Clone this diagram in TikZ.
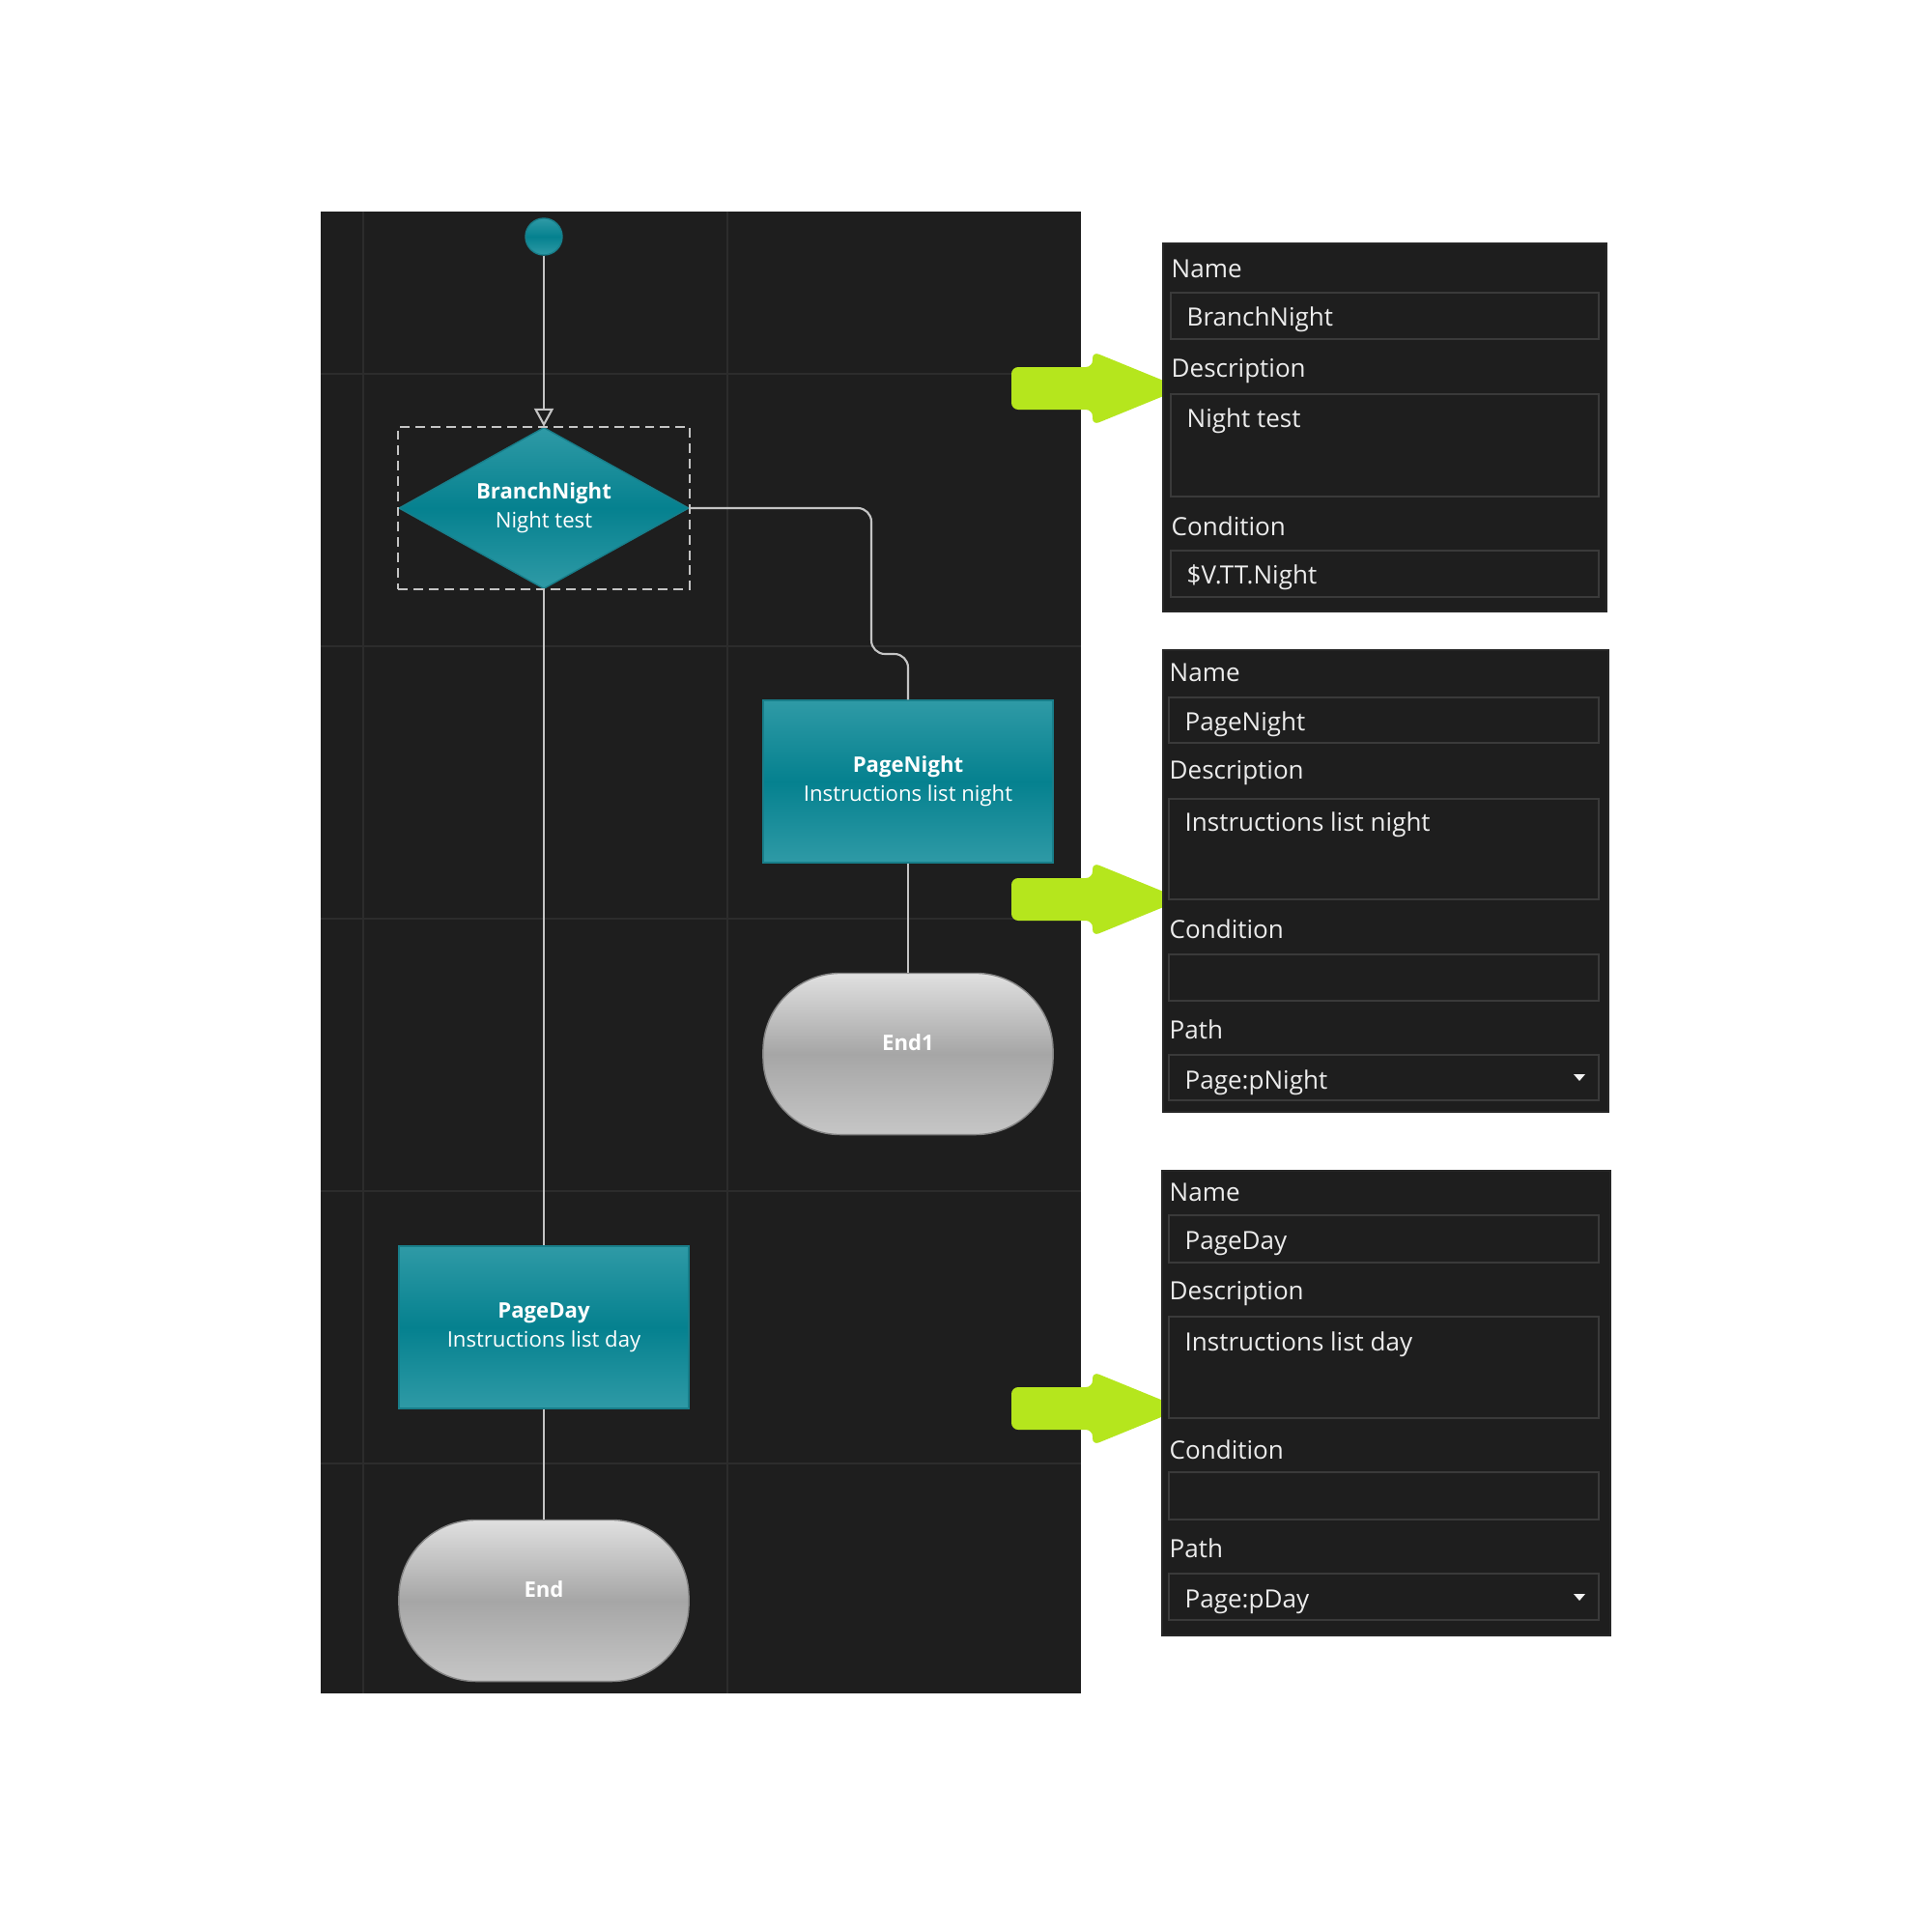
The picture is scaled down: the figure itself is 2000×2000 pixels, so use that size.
\documentclass[tikz,border=0pt]{standalone}
\usepackage{fontspec}
\setmainfont{Open Sans}
\usetikzlibrary{shapes.geometric,arrows.meta,fit,positioning}

\definecolor{canvas}{HTML}{1E1E1E}
\definecolor{gridline}{HTML}{2C2C2C}
\definecolor{tealtop}{HTML}{2F9AA6}
\definecolor{tealmid}{HTML}{05818F}
\definecolor{tealedge}{HTML}{187E8A}
\definecolor{greytop}{HTML}{E0E0E0}
\definecolor{greymid}{HTML}{A6A6A6}
\definecolor{greybot}{HTML}{C6C6C6}
\definecolor{wire}{HTML}{C4C4C4}
\definecolor{lime}{HTML}{B5E61D}
\definecolor{fieldline}{HTML}{3A3A3A}
\definecolor{paneltext}{HTML}{ECECEC}

\newcommand\flowfont{\fontsize{6.3}{8.5}\selectfont}
\newcommand\panelfont{\fontsize{7.4}{9}\selectfont}

\tikzset{
  tealfill/.style={top color=tealtop, bottom color=tealtop, middle color=tealmid, draw=tealedge, line width=0.4pt},
  startdot/.style={circle, tealfill, minimum size=0.38cm, inner sep=0pt},
  branchbox/.style={diamond, aspect=1.8, tealfill, minimum width=3cm, minimum height=1.67cm, inner sep=0pt, text=white, align=center, font=\flowfont},
  pagebox/.style={rectangle, tealfill, minimum width=3cm, minimum height=1.68cm, text=white, align=center, font=\flowfont},
  endbox/.style={rectangle, rounded corners=0.8cm, top color=greytop, bottom color=greybot, middle color=greymid, draw=greymid!80!black, line width=0.4pt, minimum width=3cm, minimum height=1.67cm, text depth=7pt, text=white, font=\flowfont\bfseries},
  link/.style={draw=wire, line width=0.6pt},
  selbox/.style={draw=wire, line width=0.6pt, dash pattern=on 2.8pt off 1.7pt, inner sep=0pt},
  panel/.style={fill=canvas, draw=black!85, line width=0.7pt},
  field/.style={draw=fieldline, line width=0.8pt},
  proplabel/.style={anchor=west, inner sep=0pt, text=paneltext, font=\panelfont},
  pointer/.style={fill=lime, rounded corners=2pt}
}

\begin{document}
\begin{tikzpicture}[x=0.01cm, y=-0.01cm]
    \useasboundingbox[fill=white] (0,0) rectangle (2000,2000);

    % flow canvas and its grid
    \fill[canvas] (332,219) rectangle (1119,1753);
    \foreach \gx in {376,753}
        \draw[gridline, line width=0.6pt] (\gx,219) -- (\gx,1753);
    \foreach \gy in {387,669,951,1233,1515}
        \draw[gridline, line width=0.6pt] (332,\gy) -- (1119,\gy);

    % flow nodes
    \node[startdot] (start) at (563,245) {};
    \node[branchbox] (branch) at (563,526) {\textbf{BranchNight}\\Night test};
    \node[selbox, fit=(branch.north)(branch.south)(branch.east)(branch.west)] (branchsel) {};
    \node[pagebox] (night) at (940,809) {\textbf{PageNight}\\Instructions list night};
    \node[endbox] (nightend) at (940,1091) {End1};
    \node[pagebox] (day) at (563,1374) {\textbf{PageDay}\\Instructions list day};
    \node[endbox] (dayend) at (563,1657) {End};

    % connectors
    \draw[link, -{Triangle[open, length=5.4pt, width=5.7pt]}] (start) -- (branch);
    \draw[link, rounded corners=4pt] (branch.east) -- (902,526) -- (902,677) -- (940,677) -- (night.north);
    \draw[link] (branch) -- (day);
    \draw[link] (night) -- (nightend);
    \draw[link] (day) -- (dayend);

    % green pointers
    \foreach \py in {402,931,1458}
        \fill[pointer] (1047,\py-22) -- (1131,\py-22) -- (1131,\py-38) -- (1224,\py)
            -- (1131,\py+38) -- (1131,\py+22) -- (1047,\py+22) -- cycle;

    % properties of BranchNight
    \draw[panel] (1204,252) rectangle (1663,633);
    \node[proplabel] (bname) at (1212,278) {Name};
    \draw[field] (1212,303) rectangle (1655,351);
    \node[proplabel] (bnameval) at (1228,331) {BranchNight};
    \node[proplabel] (bdesc) at (1212,384) {Description};
    \draw[field] (1212,408) rectangle (1655,514);
    \node[proplabel] (bdescval) at (1228,436) {Night test};
    \node[proplabel] (bcond) at (1212,545) {Condition};
    \draw[field] (1212,570) rectangle (1655,618);
    \node[proplabel] (bcondval) at (1228,598) {\$V.TT.Night};

    % properties of PageNight
    \draw[panel] (1204,673) rectangle (1665,1151);
    \node[proplabel] (nname) at (1210,696) {Name};
    \draw[field] (1210,722) rectangle (1655,769);
    \node[proplabel] (nnameval) at (1226,750) {PageNight};
    \node[proplabel] (ndesc) at (1210,800) {Description};
    \draw[field] (1210,827) rectangle (1655,931);
    \node[proplabel] (ndescval) at (1226,854) {Instructions list night};
    \node[proplabel] (ncond) at (1210,962) {Condition};
    \draw[field] (1210,988) rectangle (1655,1036);
    \node[proplabel] (npath) at (1210,1066) {Path};
    \draw[field] (1210,1092) rectangle (1655,1139);
    \node[proplabel] (npathval) at (1226,1121) {Page:pNight};
    \fill[paneltext!70] (1629,1112) -- (1641,1112) -- (1635,1119) -- cycle;

    % properties of PageDay
    \draw[panel] (1203,1212) rectangle (1667,1693);
    \node[proplabel] (dname) at (1210,1234) {Name};
    \draw[field] (1210,1258) rectangle (1655,1307);
    \node[proplabel] (dnameval) at (1226,1287) {PageDay};
    \node[proplabel] (ddesc) at (1210,1339) {Description};
    \draw[field] (1210,1363) rectangle (1655,1468);
    \node[proplabel] (ddescval) at (1226,1392) {Instructions list day};
    \node[proplabel] (dcond) at (1210,1501) {Condition};
    \draw[field] (1210,1524) rectangle (1655,1573);
    \node[proplabel] (dpath) at (1210,1603) {Path};
    \draw[field] (1210,1629) rectangle (1655,1677);
    \node[proplabel] (dpathval) at (1226,1658) {Page:pDay};
    \fill[paneltext!70] (1629,1650) -- (1641,1650) -- (1635,1657) -- cycle;
\end{tikzpicture}
\end{document}
